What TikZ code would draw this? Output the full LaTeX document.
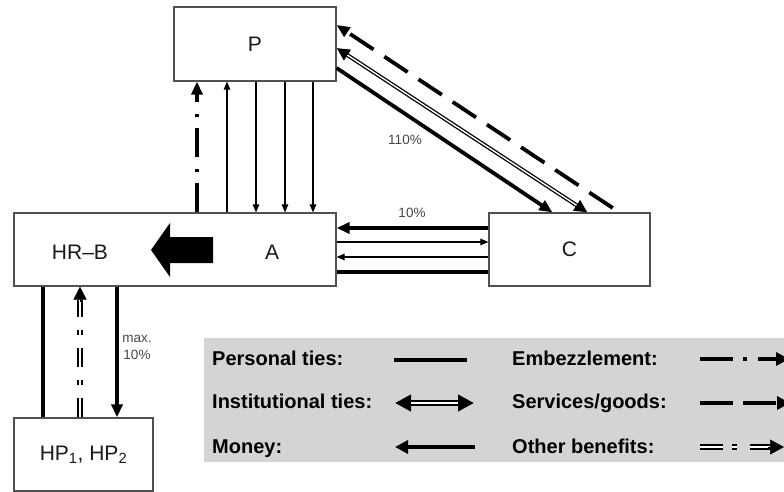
\documentclass[tikz,border=0pt]{standalone}
\usepackage{fontspec}
\setmainfont{Liberation Sans}
\usetikzlibrary{arrows.meta,calc}
\definecolor{legendgray}{RGB}{212,212,212}
\definecolor{framegray}{RGB}{80,80,80}
\begin{document}
\begin{tikzpicture}[x=1pt,y=-1pt,
  box/.style={draw=framegray, line width=1.2pt, fill=white, inner sep=0pt},
  lbl/.style={font=\fontsize{21}{24}\selectfont, text=black!90},
  pct/.style={font=\fontsize{13.5}{17}\selectfont, text=black!72},
  legtxt/.style={font=\bfseries\fontsize{20}{23}\selectfont, anchor=base west, inner sep=0pt},
  heavy/.style={line width=3.8pt},
  light/.style={line width=1.1pt},
  bigtip/.style={-{Triangle[length=13pt,width=11pt]}},
  smalltip/.style={-{Triangle[length=8pt,width=6.5pt]}},
  embez/.style={heavy, dash pattern=on 29pt off 11pt on 3pt off 12pt},
  goods/.style={heavy, dash pattern=on 28pt off 13pt},
  instouter/.style={line width=4pt, {Triangle[length=13pt,width=12pt]}-{Triangle[length=13pt,width=12pt]}},
  instinner/.style={white, line width=1.4pt, shorten <=13pt, shorten >=13pt},
  benefouter/.style={line width=5.5pt, shorten >=13pt},
  benefinner/.style={white, line width=1.8pt, shorten >=13pt},
]
\useasboundingbox (0,0) rectangle (784,492);
\clip (0,0) rectangle (784,492);

% actors
\node[box, minimum width=162pt, minimum height=74pt, lbl] (P) at (255,44) {P};
\node[box, minimum width=322pt, minimum height=73pt] (AB) at (175,249.5) {};
\node[lbl] (HRB) at (80,252) {HR–B};
\node[lbl] (A) at (272,252) {A};
\node[box, minimum width=161pt, minimum height=73pt, lbl] (C) at (569.5,249.5) {C};
\node[box, minimum width=139pt, minimum height=73pt, lbl] (HP) at (83.5,454.5) {HP\textsubscript{1}, HP\textsubscript{2}};

% big arrow inside the lower-left box
\fill (151,250) -- (170,223) -- (170,237) -- (213,237) -- (213,263)
      -- (170,263) -- (170,277) -- cycle;

% columns between A and P
\coordinate (v1) at (197,0);
\coordinate (v2) at (227,0);
\coordinate (v3) at (256,0);
\coordinate (v4) at (285,0);
\coordinate (v5) at (313,0);
\draw[embez, bigtip] (AB.north -| v1) -- (P.south -| v1);
\draw[light, smalltip] (AB.north -| v2) -- (P.south -| v2);
\draw[light, smalltip] (P.south -| v3) -- (AB.north -| v3);
\draw[light, smalltip] (P.south -| v4) -- (AB.north -| v4);
\draw[light, smalltip] (P.south -| v5) -- (AB.north -| v5);

% rows between A and C
\coordinate (r1) at (0,228);
\coordinate (r2) at (0,242);
\coordinate (r3) at (0,257);
\coordinate (r4) at (0,272);
\draw[heavy, bigtip] (C.west |- r1) -- (AB.east |- r1);
\draw[light, smalltip] (AB.east |- r2) -- (C.west |- r2);
\draw[light, smalltip] (C.west |- r3) -- (AB.east |- r3);
\draw[heavy] (AB.east |- r4) -- (C.west |- r4);
\node[pct] (l10) at (412,213) {10\%};

% diagonals between P and C
\draw[heavy, bigtip] ($(P.east)+(0,24)$) -- ($(C.north west)+(64,0)$);
\draw[instouter] ($(C.north west)+(99,0)$) -- ($(P.east)+(0,4)$);
\draw[instinner] ($(C.north west)+(99,0)$) -- ($(P.east)+(0,4)$);
\draw[goods, dash phase=33pt, bigtip] ($(C.north west)+(131,0)$) -- ($(P.east)+(0,-19)$);
\node[pct] (l110) at (405,140) {110\%};

% links between HR-B and HP
\coordinate (h1) at (43,0);
\coordinate (h2) at (80,0);
\coordinate (h3) at (117,0);
\draw[heavy] (AB.south -| h1) -- (HP.north -| h1);
\draw[benefouter, dash pattern=on 19pt off 13pt on 5pt off 13pt] (HP.north -| h2) -- (AB.south -| h2);
\draw[benefinner, dash pattern=on 19pt off 13pt on 5pt off 13pt] (HP.north -| h2) -- (AB.south -| h2);
\draw[line width=0.6pt, -{Triangle[length=13pt,width=13pt]}] ($(AB.south -| h2)+(0,15)$) -- (AB.south -| h2);
\draw[heavy, bigtip] (AB.south -| h3) -- (HP.north -| h3);
\node[pct, align=center] (lmax) at (137,347) {max.\\10\%};

% legend
\node[fill=legendgray, minimum width=580pt, minimum height=124pt, anchor=north west, inner sep=0pt] (legend) at (204,338) {};
\node[legtxt] (t1) at (212,365) {Personal ties:};
\node[legtxt] (t2) at (212,408) {Institutional ties:};
\node[legtxt] (t3) at (212,453) {Money:};
\node[legtxt] (t4) at (512,365) {Embezzlement:};
\node[legtxt] (t5) at (512,408) {Services/goods:};
\node[legtxt] (t6) at (512,453) {Other benefits:};

\draw[heavy] (394,360) -- (467,360);
\draw[line width=6pt, {Triangle[length=16pt,width=16pt]}-{Triangle[length=16pt,width=16pt]}] (395,403) -- (474,403);
\draw[white, line width=2pt, shorten <=16pt, shorten >=16pt] (395,403) -- (474,403);
\draw[line width=4.5pt, -{Triangle[length=13pt,width=13pt]}] (475,447) -- (395,447);

\draw[line width=4.5pt, dash pattern=on 33pt off 10pt on 4pt off 11pt, -{Triangle[length=13pt,width=13pt]}] (700,359) -- (789,359);
\draw[line width=4.5pt, dash pattern=on 33pt off 10pt, -{Triangle[length=13pt,width=13pt]}] (700,403) -- (790,403);
\draw[line width=6pt, shorten >=14pt, dash pattern=on 23pt off 9pt on 5pt off 13pt] (700,447) -- (784,447);
\draw[white, line width=2pt, shorten >=14pt, dash pattern=on 23pt off 9pt on 5pt off 13pt] (700,447) -- (784,447);
\draw[line width=0.6pt, -{Triangle[length=14pt,width=15pt]}] (768,447) -- (784,447);
\end{tikzpicture}
\end{document}
